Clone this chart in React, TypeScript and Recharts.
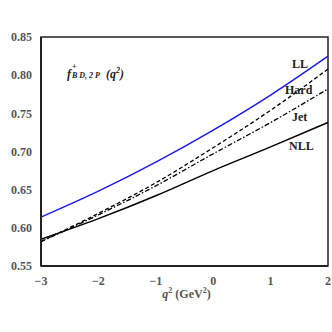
import { Line, LineChart, ReferenceArea, XAxis, YAxis } from 'recharts'

const qSquared = [-3, -2, -1, 0, 1, 2]
const llValues = [0.614, 0.648, 0.686, 0.728, 0.774, 0.825]
const hardValues = [0.582, 0.619, 0.659, 0.705, 0.754, 0.808]
const jetValues = [0.582, 0.617, 0.655, 0.697, 0.738, 0.782]
const nllValues = [0.585, 0.612, 0.642, 0.675, 0.706, 0.738]

const xTicks = [-3, -2, -1, 0, 1, 2]
const yTicks = [0.55, 0.6, 0.65, 0.7, 0.75, 0.8, 0.85]

const data = qSquared.map((q, i) => ({
  q,
  ll: llValues[i],
  hard: hardValues[i],
  jet: jetValues[i],
  nll: nllValues[i],
}))

const serif = '"Liberation Serif", "DejaVu Serif", serif'
const tickStyle = { fontFamily: serif, fontSize: 12, fontWeight: 700, fill: '#555' }
const curveLabel = {
  position: 'absolute' as const,
  fontFamily: serif,
  fontWeight: 700,
  fontSize: 12,
  color: '#222',
}

export default function App() {
  return (
    <div style={{ position: 'fixed', left: 0, top: 0, width: 332, height: 332, background: '#fff' }}>
      <LineChart width={332} height={332} data={data} margin={{ top: 37, right: 4, left: 0, bottom: 26 }}>
        <XAxis
          xAxisId="b"
          dataKey="q"
          type="number"
          domain={[-3, 2]}
          ticks={xTicks}
          tickFormatter={(v: number) => (v < 0 ? `\u2212${Math.abs(v)}` : `${v}`)}
          height={40}
          tick={tickStyle}
          tickLine={false}
          tickMargin={4}
          axisLine={{ stroke: '#222', strokeWidth: 2 }}
        />
        <XAxis
          xAxisId="t"
          orientation="top"
          mirror
          dataKey="q"
          type="number"
          domain={[-3, 2]}
          ticks={xTicks}
          height={1}
          tick={false}
          tickSize={4}
          axisLine={false}
          tickLine={{ stroke: '#444' }}
        />
        <YAxis
          yAxisId="l"
          type="number"
          domain={[0.55, 0.85]}
          ticks={yTicks}
          tickFormatter={(v: number) => v.toFixed(2)}
          width={41}
          tick={tickStyle}
          tickLine={false}
          tickMargin={3}
          axisLine={{ stroke: '#222', strokeWidth: 2 }}
        />
        <YAxis
          yAxisId="r"
          orientation="right"
          mirror
          type="number"
          domain={[0.55, 0.85]}
          ticks={yTicks}
          width={1}
          tick={false}
          tickSize={4}
          axisLine={false}
          tickLine={{ stroke: '#444' }}
        />
        <ReferenceArea
          xAxisId="b"
          yAxisId="l"
          x1={-3}
          x2={2}
          y1={0.55}
          y2={0.85}
          fill="none"
          stroke="#222"
          strokeWidth={1.5}
          ifOverflow="visible"
        />
        <Line xAxisId="b" yAxisId="l" type="monotone" dataKey="nll" stroke="#000" strokeWidth={1.5} dot={false} isAnimationActive={false} />
        <Line xAxisId="b" yAxisId="l" type="monotone" dataKey="jet" stroke="#000" strokeWidth={1.3} strokeDasharray="5 2 1.5 2" dot={false} isAnimationActive={false} />
        <Line xAxisId="b" yAxisId="l" type="monotone" dataKey="hard" stroke="#000" strokeWidth={1.3} strokeDasharray="4 2.5" dot={false} isAnimationActive={false} />
        <Line xAxisId="b" yAxisId="l" type="monotone" dataKey="ll" stroke="#1a1af0" strokeWidth={1.5} dot={false} isAnimationActive={false} />
      </LineChart>

      <div style={{ ...curveLabel, left: 292, top: 57 }}>LL</div>
      <div style={{ ...curveLabel, left: 285, top: 83 }}>Hard</div>
      <div style={{ ...curveLabel, left: 292, top: 110 }}>Jet</div>
      <div style={{ ...curveLabel, left: 289, top: 139 }}>NLL</div>

      <div style={{ position: 'absolute', left: 67, top: 66, fontFamily: serif, fontWeight: 700, fontStyle: 'italic', fontSize: 12, color: '#222', whiteSpace: 'nowrap' }}>
        f
        <span style={{ display: 'inline-block', position: 'relative', width: 32, height: 10, fontSize: 8 }}>
          <span style={{ position: 'absolute', left: 1, top: -6 }}>+</span>
          <span style={{ position: 'absolute', left: 1, top: 3, whiteSpace: 'nowrap' }}>B D, 2 P</span>
        </span>
        {' '}(q<sup style={{ fontSize: 8 }}>2</sup>)
      </div>

      <div style={{ position: 'absolute', left: 0, width: 332, paddingLeft: 41, boxSizing: 'border-box', top: 286, textAlign: 'center', fontFamily: serif, fontWeight: 700, fontSize: 12, color: '#555' }}>
        <i>q</i>
        <sup style={{ fontSize: 8 }}>2</sup> (GeV<sup style={{ fontSize: 8 }}>2</sup>)
      </div>
    </div>
  )
}
